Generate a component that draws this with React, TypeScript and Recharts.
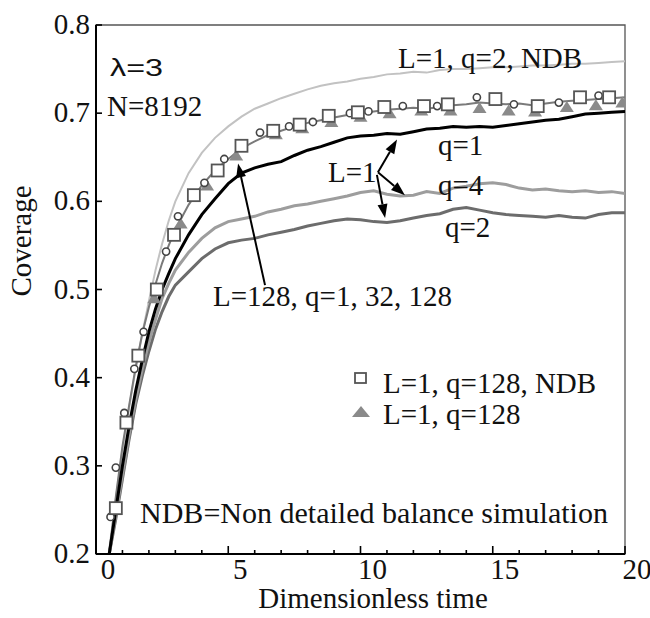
import React from "react";
import { ComposedChart, Line, Scatter, XAxis, YAxis, ReferenceLine, ReferenceArea } from "recharts";

// ---- data ----
const TIME = [
  0.5, 0.75, 1, 1.25, 1.5, 1.75, 2, 2.25, 2.5, 2.75,
  3, 3.5, 4, 4.5, 5, 5.5, 6, 6.5, 7, 7.5,
  8, 8.5, 9, 9.5, 10, 10.5, 11, 11.5, 12, 12.5,
  13, 13.5, 14, 14.5, 15, 15.5, 16, 16.5, 17, 17.5,
  18, 18.5, 19, 19.5, 20,
];
const NDB_Q2 = [
  0.205, 0.262, 0.318, 0.365, 0.41, 0.45, 0.487, 0.522, 0.552, 0.578,
  0.6, 0.632, 0.655, 0.672, 0.685, 0.696, 0.705, 0.711, 0.717, 0.722,
  0.727, 0.731, 0.734, 0.736, 0.739, 0.741, 0.744, 0.745, 0.747, 0.746,
  0.749, 0.75, 0.75, 0.751, 0.752, 0.752, 0.753, 0.754, 0.754, 0.755,
  0.756, 0.756, 0.757, 0.758, 0.759,
];
const L1_Q1 = [
  0.2, 0.25, 0.3, 0.345, 0.385, 0.42, 0.452, 0.478, 0.5, 0.518,
  0.535, 0.562, 0.585, 0.603, 0.62, 0.632, 0.638, 0.642, 0.645, 0.652,
  0.658, 0.662, 0.667, 0.672, 0.674, 0.675, 0.677, 0.676, 0.679, 0.682,
  0.683, 0.685, 0.684, 0.685, 0.684, 0.686, 0.688, 0.69, 0.692, 0.693,
  0.696, 0.699, 0.7, 0.701, 0.702,
];
const L1_Q4 = [
  0.2, 0.245, 0.29, 0.335, 0.375, 0.41, 0.44, 0.466, 0.49, 0.507,
  0.522, 0.542, 0.558, 0.57, 0.577, 0.58, 0.583, 0.588, 0.591, 0.595,
  0.597, 0.6, 0.603, 0.606, 0.61, 0.612, 0.608, 0.606, 0.607, 0.611,
  0.609, 0.615, 0.617, 0.62, 0.621, 0.619, 0.615, 0.613, 0.614, 0.612,
  0.611, 0.612, 0.61, 0.611, 0.609,
];
const L1_Q2 = [
  0.2, 0.24, 0.285, 0.33, 0.37, 0.402, 0.43, 0.455, 0.475, 0.492,
  0.505, 0.52, 0.535, 0.546, 0.553, 0.556, 0.558, 0.562, 0.565, 0.568,
  0.572, 0.575, 0.578, 0.58, 0.579, 0.577, 0.576, 0.578, 0.581, 0.584,
  0.586, 0.591, 0.593, 0.59, 0.587, 0.585, 0.584, 0.583, 0.582, 0.584,
  0.582, 0.581, 0.585, 0.587, 0.587,
];
const L128 = [
  0.2, 0.265, 0.322, 0.368, 0.412, 0.45, 0.48, 0.506, 0.53, 0.55,
  0.568, 0.596, 0.618, 0.635, 0.648, 0.66, 0.668, 0.675, 0.68, 0.685,
  0.689, 0.692, 0.695, 0.698, 0.7, 0.702, 0.704, 0.705, 0.706, 0.705,
  0.707, 0.709, 0.71, 0.712, 0.711, 0.71, 0.711, 0.709, 0.711, 0.713,
  0.714, 0.715, 0.716, 0.717, 0.718,
];

// markers: L=1, q=128, NDB (open squares)
const SQ_T = [0.75, 1.15, 1.6, 2.3, 2.95, 3.7, 4.6, 5.5, 6.7, 7.7, 8.8, 9.9, 10.9, 12.4, 13.3, 15.1, 16.7, 18.3, 19.4];
const SQ_V = [0.252, 0.349, 0.425, 0.5, 0.562, 0.607, 0.635, 0.663, 0.68, 0.687, 0.697, 0.701, 0.707, 0.708, 0.71, 0.716, 0.708, 0.718, 0.718];
// small open circles (L=128 runs)
const CIR_T = [0.55, 0.75, 1.07, 1.45, 1.8, 2.65, 3.1, 4.1, 4.85, 6.2, 7.3, 8.2, 9.6, 10.3, 11.6, 12.9, 14.4, 15.8, 17.5, 19.0];
const CIR_V = [0.242, 0.298, 0.36, 0.41, 0.452, 0.543, 0.583, 0.621, 0.648, 0.678, 0.685, 0.69, 0.7, 0.702, 0.708, 0.708, 0.718, 0.71, 0.712, 0.72];
// L=1, q=128 (filled triangles)
const TRI_T = [2.2, 3.2, 4.2, 5.3, 6.8, 7.8, 8.9, 10.0, 11.1, 12.3, 13.4, 14.5, 15.6, 16.6, 17.8, 18.9, 19.9];
const TRI_V = [0.49, 0.575, 0.618, 0.652, 0.676, 0.683, 0.69, 0.696, 0.7, 0.703, 0.703, 0.706, 0.703, 0.702, 0.707, 0.709, 0.712];

const X_TICKS = [0, 1, 2, 3, 4, 5, 6, 7, 8, 9, 10, 11, 12, 13, 14, 15, 16, 17, 18, 19, 20];
const Y_TICKS = [0.2, 0.3, 0.4, 0.5, 0.6, 0.7, 0.8];

const ARROW_FROM_X = [6.39, 10.66, 10.66, 10.62];
const ARROW_FROM_Y = [0.505, 0.633, 0.633, 0.63];
const ARROW_TO_X = [5.37, 11.38, 11.68, 10.93];
const ARROW_TO_Y = [0.643, 0.67, 0.607, 0.581];

const rows = TIME.map((t, i) => ({
  t,
  ndb2: NDB_Q2[i],
  q1: L1_Q1[i],
  q4: L1_Q4[i],
  q2: L1_Q2[i],
  l128: L128[i],
}));
const squares = SQ_T.map((t, i) => ({ t, v: SQ_V[i] }));
const circles = CIR_T.map((t, i) => ({ t, v: CIR_V[i] }));
const triangles = TRI_T.map((t, i) => ({ t, v: TRI_V[i] }));

const SERIF = '"Liberation Serif", "Times New Roman", serif';
const SANS = '"Liberation Sans", Arial, sans-serif';
const FS = 29;

const XTick = (p: any) => {
  const { x, y, payload } = p;
  const major = payload.value % 5 === 0;
  return (
    <g>
      <line x1={x} x2={x} y1={y} y2={y - (major ? 8 : 4)} stroke="#000" strokeWidth={1.6} />
      {major && (
        <text x={x + 12} y={y + 25} textAnchor="middle" fontFamily={SERIF} fontSize={FS} fill="#111">
          {payload.value}
        </text>
      )}
    </g>
  );
};

const YTick = (p: any) => {
  const { x, y, payload } = p;
  return (
    <g>
      <line x1={x} x2={x + 6} y1={y} y2={y} stroke="#000" strokeWidth={1.6} />
      <text x={x - 6} y={y + 9} textAnchor="end" fontFamily={SERIF} fontSize={FS} fill="#111">
        {Number(payload.value).toFixed(1)}
      </text>
    </g>
  );
};

const SquareShape = (p: any) => (
  <rect x={p.cx - 6} y={p.cy - 6} width={12} height={12} fill="#fff" stroke="#555" strokeWidth={1.8} />
);
const CircleShape = (p: any) => (
  <circle cx={p.cx} cy={p.cy} r={3.6} fill="#fff" stroke="#444" strokeWidth={1.6} />
);
const TriShape = (p: any) => (
  <polygon
    points={`${p.cx},${p.cy - 6} ${p.cx - 7},${p.cy + 5} ${p.cx + 7},${p.cy + 5}`}
    fill="#8a8a8a"
  />
);

const ArrowShape = (p: any) => {
  const { x1, y1, x2, y2 } = p;
  const dx = x2 - x1;
  const dy = y2 - y1;
  const len = Math.sqrt(dx * dx + dy * dy) || 1;
  const ux = dx / len;
  const uy = dy / len;
  const hl = 14;
  const hw = 5;
  const bx = x2 - ux * hl;
  const by = y2 - uy * hl;
  const pts = `${x2},${y2} ${bx - uy * hw},${by + ux * hw} ${bx + uy * hw},${by - ux * hw}`;
  return (
    <g>
      <line x1={x1} y1={y1} x2={bx} y2={by} stroke="#000" strokeWidth={2} />
      <polygon points={pts} fill="#000" />
    </g>
  );
};

const Txt = (p: any) => (
  <text
    x={p.x}
    y={p.y}
    fontFamily={p.sans ? SANS : SERIF}
    fontSize={p.fs || FS}
    fill="#111"
    textAnchor={p.anchor || "start"}
    transform={p.transform}
    textLength={p.len}
    lengthAdjust={p.len ? "spacingAndGlyphs" : undefined}
  >
    {p.children}
  </text>
);

export default function App() {
  return (
    <div style={{ position: "absolute", left: 0, top: 0, width: 650, height: 618, background: "#fff" }}>
      <ComposedChart width={650} height={618} data={rows} margin={{ top: 25, right: 25, bottom: 24, left: 0 }}>
        <ReferenceArea x1={0} x2={20} y1={0.2} y2={0.8} fill="none" stroke="#555" strokeWidth={1.3} />
        <XAxis
          dataKey="t"
          type="number"
          domain={[0, 20]}
          ticks={X_TICKS}
          interval={0}
          height={40}
          tickSize={0}
          tickMargin={0}
          tickLine={false}
          axisLine={{ stroke: "#000", strokeWidth: 2 }}
          tick={<XTick />}
          allowDataOverflow
        />
        <YAxis
          type="number"
          domain={[0.2, 0.8]}
          ticks={Y_TICKS}
          interval={0}
          width={96}
          tickSize={0}
          tickMargin={0}
          tickLine={false}
          axisLine={{ stroke: "#000", strokeWidth: 2 }}
          tick={<YTick />}
          allowDataOverflow
        />
        <Line dataKey="ndb2" stroke="#c2c2c2" strokeWidth={2} dot={false} isAnimationActive={false} />
        <Line dataKey="q2" stroke="#6c6c6c" strokeWidth={3} dot={false} isAnimationActive={false} />
        <Line dataKey="q4" stroke="#9d9d9d" strokeWidth={3} dot={false} isAnimationActive={false} />
        <Line dataKey="l128" stroke="#7a7a7a" strokeWidth={2} dot={false} isAnimationActive={false} />
        <Scatter data={triangles} dataKey="v" shape={<TriShape />} isAnimationActive={false} />
        <Line dataKey="q1" stroke="#000" strokeWidth={3} dot={false} isAnimationActive={false} />
        <Scatter data={circles} dataKey="v" shape={<CircleShape />} isAnimationActive={false} />
        <Scatter data={squares} dataKey="v" shape={<SquareShape />} isAnimationActive={false} />
        {ARROW_FROM_X.map((fx, i) => (
          <ReferenceLine
            key={i}
            segment={[
              { x: fx, y: ARROW_FROM_Y[i] },
              { x: ARROW_TO_X[i], y: ARROW_TO_Y[i] },
            ]}
            shape={<ArrowShape />}
            ifOverflow="visible"
          />
        ))}
      </ComposedChart>
      <svg width={650} height={618} style={{ position: "absolute", left: 0, top: 0, pointerEvents: "none" }}>
        <Txt x={110} y={76} sans fs={24} len={53}>λ=3</Txt>
        <Txt x={107} y={116}>N=8192</Txt>
        <Txt x={398} y={68}>L=1, q=2, NDB</Txt>
        <Txt x={438} y={155}>q=1</Txt>
        <Txt x={328} y={182}>L=1</Txt>
        <Txt x={438} y={195}>q=4</Txt>
        <Txt x={445} y={237}>q=2</Txt>
        <Txt x={213} y={306}>L=128, q=1, 32, 128</Txt>
        <rect x={355} y={373} width={11} height={10} fill="#fff" stroke="#555" strokeWidth={1.8} />
        <Txt x={383} y={393}>L=1, q=128, NDB</Txt>
        <polygon points="361,406 352,417 370,417" fill="#8a8a8a" />
        <Txt x={383} y={424}>L=1, q=128</Txt>
        <Txt x={140} y={523} len={468}>NDB=Non detailed balance simulation</Txt>
        <Txt x={373} y={608} anchor="middle">Dimensionless time</Txt>
        <Txt x={31} y={241} anchor="middle" transform="rotate(-90 31 241)">Coverage</Txt>
      </svg>
    </div>
  );
}
